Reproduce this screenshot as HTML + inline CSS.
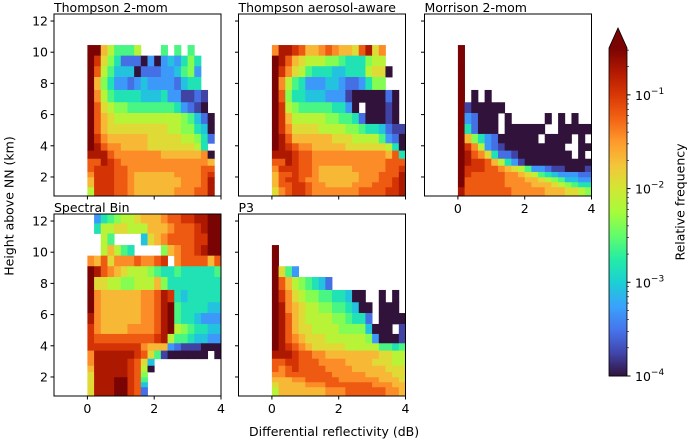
<!DOCTYPE html>
<html><head><meta charset="utf-8"><style>
body{margin:0;background:#fff}
svg{display:block;font-family:"DejaVu Sans","Liberation Sans",sans-serif}
</style></head><body>
<svg id="fig" width="687" height="441" viewBox="0 0 687 441" xmlns="http://www.w3.org/2000/svg"></svg>
<script>
// ---------- data ----------
const xBinStart = 0;         // first ZDR bin left edge (dB)
const xBinWidth = 0.2;       // dB
const rowEdgesKm = [12.45,11.85,11.2,10.46,9.78,9.10,8.41,7.58,6.79,6.10,5.40,4.76,4.16,3.69,3.17,2.72,2.32,1.98,1.66,1.34,0.83];
const levelChars = "0123456789ABCDEF"; // '.' = no data; level -> log10 frequency
const xTicks = [0,2,4];
const yTicks = [2,4,6,8,10,12];
const cbarTicks = [-4,-3,-2,-1];
const panelTitles = ["Thompson 2-mom","Thompson aerosol-aware","Morrison 2-mom","Spectral Bin","P3"];

const thompson2 = [
"....................","....................","....................",
"FFA86668...6.6.6....",
"FD975222030343575...",
"FC864440222334673...",
"FA7533234333324 55..",
"FB865555444533112 1.",
"FC98776666666532 10.",
"FCA98888888888764 20",
"FCA999999999887754 0",
"FDBAAAAAA99999887 52",
"FECBBAAAA999999985..",
"EEECBBBBBBBAAAAAAB0.",
"CCEDCBBBBBBBBBBBBBA.",
"CDDDCCBBBBBBBBBBBCC.",
"BDDDCCBAAAAAABBBBCD.",
"ADDDCCBAAAAAAABBBCE.",
"ADDDCCBAAAAAAABBBCE.",
"8DDDCCBAAAAAABBBCCE."];
const thompsonAero = [
"....................","....................","....................",
"BEEDCAABCBAA9CE9B...",
"FECA9888776555788 ..",
"FDB98655544555899 0.",
"FB8653334432235 77..",
"FC755444333100000 20",
"FD876666655 30.0001 0",
"FDA88888776652000 10",
"FDB99998888776554211",
"FECAAAAAA99988886320",
"FEDCBBAAAAA999999850",
"EEEDCCBBBBBBBBBBBAC5",
"CCEDCCBBBBBBBBBBBCCC",
"BDDDCCBAAAAABBBBBCCD",
"ACCDCCBAAAAAABBBCCCE",
"ACDDCBBAAAAAABBBCCDE",
"ACCDDCBBAAAABBBCCCDE",
"9BCDDCBBBBBBBCCCCDDE"];
const morrison = [
"....................","....................","....................",
"F...................",
"F...................",
"F...................",
"F...................",
"F.0.0...............",
"F100000.............",
"F32000.0.....0.0.0..",
"F52000.000000..00000",
"FA7532000000.0000.0.",
"FDB8321000000000..00",
"FECB9522100000000.0.0",
"FEDDCA85310000000000",
"FDDDCCBA986332110001",
"FDCCCCCBBA9865433322",
"FCCCCCCBBBAA98764433",
"FCCCCCCBBBBAAA987655",
"ECCCCCCCBBBBBAAA9987"];
const spectralBin = [
".3567889AAABCCDDEEFF",
".5889988 8AAABCCCDEFF",
"..86....49ABCCCCDDFF",
"..8A865....7ABCCDEFF",
"BAC9BBBCBBCD.BCCCCAC",
"FECBA98887655655555 6",
"F998877888A755555555",
"FBAAAAAABBCED5455555",
"FBAAAAAABBCEF6555544",
"EBAAAAAABBCEF6554333",
"DBAAAABBBBCEF8765544",
"DCCCCCCCCCDE86654433",
"DDDDDDDDBAAA32111000",
"BEEEEEEDC961000000.0",
"BEEEEEDC94..........",
"AEEEEEDC80..........",
"9EEEEEDC7...........",
"9EEEFFDC6...........",
"9EEEFFDC4...........",
"9EEEFFDC2..........."];
const p3 = [
"....................","....................","....................",
"F...................",
"F...................",
"F963................",
"FCA87654 2..........",
"FDB98776655400..0.0.",
"FEBA98877665400.000.",
"FECA98888776552.00000",
"FECA99888877774000.1",
"FECBA999888888730001",
"FEDCBA99999888886656",
"EEEDCCBBAAAAAAAA9988",
"CCDDCCCBBBBAAAA99988",
"CBCDCCCCBBBBAAAAA999",
"BBCCCCCCCBBBBBAAAA99",
"AAABBCCCCCBBBBBBAAA9",
"9AAAABBBCCCCCCCBBBAA",
"8AAAAAAABBBCCCCCCBBA"];
const panelData = [thompson2, thompsonAero, morrison, spectralBin, p3];

// ---------- helpers ----------
const NS = "http://www.w3.org/2000/svg";
const svg = document.getElementById("fig");
const LOG_MIN = -4, LOG_MAX = -0.5;
const TURBO = ["#30123b","#4145ab","#4675ed","#39a2fc","#1bcfd4","#24eca6","#61fc6c","#a4fc3b","#d1e834","#f3c63a","#fe9b2d","#f36315","#d93806","#b11901","#7a0403"];
function hex(h){return [parseInt(h.slice(1,3),16),parseInt(h.slice(3,5),16),parseInt(h.slice(5,7),16)];}
const TURBO_RGB = TURBO.map(hex);
function turbo(x){
  x=Math.max(0,Math.min(1,x));
  const s=x*(TURBO_RGB.length-1), i=Math.min(TURBO_RGB.length-2,Math.floor(s)), t=s-i;
  const a=TURBO_RGB[i], b=TURBO_RGB[i+1];
  return `rgb(${Math.round(a[0]+(b[0]-a[0])*t)},${Math.round(a[1]+(b[1]-a[1])*t)},${Math.round(a[2]+(b[2]-a[2])*t)})`;
}
function charToLog(ch){const i=levelChars.indexOf(ch);return i<0?null:LOG_MIN+(LOG_MAX-LOG_MIN)*i/15;}
function mk(tag,attrs,parent){const e=document.createElementNS(NS,tag);for(const k in attrs)e.setAttribute(k,attrs[k]);(parent||svg).appendChild(e);return e;}

const panels = [
  {x0:54,  y0:14,  w:167, h:182, xl:false, yl:true},
  {x0:238.5,y0:14, w:167, h:182, xl:false, yl:false},
  {x0:424.5,y0:14, w:167, h:182, xl:true,  yl:false},
  {x0:54,  y0:214, w:167, h:182, xl:true,  yl:true},
  {x0:238.5,y0:214,w:167, h:182, xl:true,  yl:false}
];
const XMIN=-1,XMAX=4,YMIN=0.78,YMAX=12.45;

panels.forEach((p,pi)=>{
  const xs=v=>p.x0+(v-XMIN)/(XMAX-XMIN)*p.w;
  const ys=v=>p.y0+(YMAX-v)/(YMAX-YMIN)*p.h;
  const g=mk("g",{});
  
  
  const clip=mk("clipPath",{id:"c"+pi},g);
  mk("rect",{x:p.x0,y:p.y0,width:p.w,height:p.h},clip);
  const cells=mk("g",{"clip-path":`url(#c${pi})`},g);
  const rows=panelData[pi];
  rows.forEach((row,ri)=>{
    const str=row.replace(/ /g,'');
    for(let ci=0;ci<20;ci++){
      const lv=charToLog(str[ci]||'.');
      if(lv===null) continue;
      const xa=xBinStart+ci*xBinWidth, xb=xa+xBinWidth;
      const ya=rowEdgesKm[ri], yb=rowEdgesKm[ri+1];
      const r=mk("rect",{x:xs(xa).toFixed(2),y:ys(ya).toFixed(2),width:(xs(xb)-xs(xa)+0.4).toFixed(2),height:(ys(yb)-ys(ya)+0.4).toFixed(2),fill:turbo((lv-LOG_MIN)/(LOG_MAX-LOG_MIN))},cells);
      
      
    }
  });
  const fr=mk("rect",{x:p.x0,y:p.y0,width:p.w,height:p.h,fill:"none",stroke:"#000","stroke-width":1},g);
  
  
  xTicks.forEach(t=>{
    const X=xs(t);
    mk("line",{x1:X,x2:X,y1:p.y0+p.h,y2:p.y0+p.h+3.5,stroke:"#000"},g);
    if(p.xl){
      const tx=mk("text",{x:X,y:p.y0+p.h+17,"font-size":12.5,"text-anchor":"middle"},g);
      tx.textContent=t;
      
      
    }
  });
  yTicks.forEach(t=>{
    const Y=ys(t);
    mk("line",{x1:p.x0-3.5,x2:p.x0,y1:Y,y2:Y,stroke:"#000"},g);
    if(p.yl){
      const ty=mk("text",{x:p.x0-6,y:Y+4.5,"font-size":12.5,"text-anchor":"end"},g);
      ty.textContent=t;
      
      
    }
  });
  const tt=mk("text",{x:p.x0,y:p.y0-2,"font-size":12.5},g);
  tt.textContent=panelTitles[pi];
  
  
});

// colorbar
const cb={x:609,w:18,top:48,bot:376};
const cbs=v=>cb.bot-(v-LOG_MIN)/(LOG_MAX-LOG_MIN)*(cb.bot-cb.top);
const cg=mk("g",{});


for(let i=0;i<164;i++){
  const y=cb.bot-(i+1)*(cb.bot-cb.top)/164;
  mk("rect",{x:cb.x,y:y.toFixed(2),width:cb.w,height:((cb.bot-cb.top)/164+0.5).toFixed(2),fill:turbo((i+0.5)/164)},cg);
}
mk("polygon",{points:`${cb.x},${cb.top} ${cb.x+cb.w},${cb.top} ${cb.x+cb.w/2},${cb.top-20}`,fill:turbo(1)},cg);
mk("polygon",{points:`${cb.x},${cb.bot} ${cb.x},${cb.top} ${cb.x+cb.w/2},${cb.top-20} ${cb.x+cb.w},${cb.top} ${cb.x+cb.w},${cb.bot}`,fill:"none",stroke:"#000","stroke-width":0.8},cg);
for(let d=-4;d<=-1;d++){
  for(let m=2;m<=9;m++){
    const v=d+Math.log10(m);
    if(v>LOG_MAX) continue;
    mk("line",{x1:cb.x+cb.w,x2:cb.x+cb.w+2,y1:cbs(v),y2:cbs(v),stroke:"#000","stroke-width":0.6},cg);
  }
}
cbarTicks.forEach(t=>{
  const Y=cbs(t);
  mk("line",{x1:cb.x+cb.w,x2:cb.x+cb.w+3.5,y1:Y,y2:Y,stroke:"#000"},cg);
  const tx=mk("text",{x:cb.x+cb.w+8,y:Y+5,"font-size":12.5},cg);
  tx.innerHTML=`10<tspan dy="-6" font-size="9">\u2212${-t}</tspan>`;
  
  
});
</script>
<div style="position:absolute;left:0;top:0;width:687px;height:441px;pointer-events:none;font-family:'DejaVu Sans','Liberation Sans',sans-serif;font-size:12.5px">
  <div style="position:absolute;left:249px;top:424px;white-space:nowrap">Differential reflectivity (dB)</div>
  <div style="position:absolute;left:9px;top:206px;white-space:nowrap;transform:translate(-50%,-50%) rotate(-90deg)">Height above NN (km)</div>
  <div style="position:absolute;left:680px;top:202px;white-space:nowrap;transform:translate(-50%,-50%) rotate(-90deg)">Relative frequency</div>
</div>
</body></html>
